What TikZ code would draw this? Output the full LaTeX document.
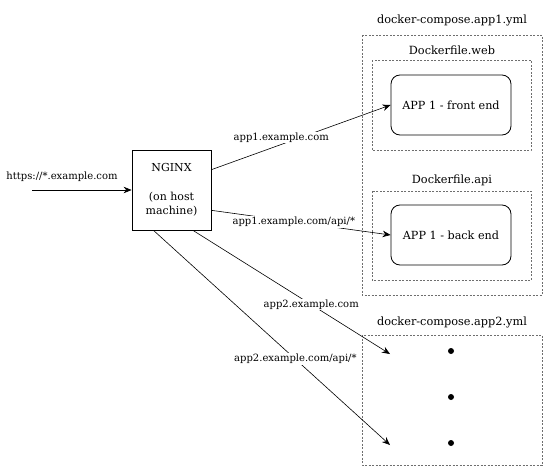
\documentclass[tikz,border=0pt]{standalone}
\usepackage{fontspec}
\setmainfont{DejaVu Serif}
\usetikzlibrary{arrows.meta}
\usetikzlibrary{calc}

\tikzset{
  composebox/.style={draw={rgb,255:red,110;green,110;blue,110},line width=0.6pt,dash pattern=on 2pt off 1.5pt},
  appbox/.style={draw,line width=0.8pt,rounded corners=9pt,minimum width=120pt,minimum height=60pt,font=\fontsize{11.2}{13}\selectfont},
  lbl/.style={fill=white,inner sep=1pt,font=\fontsize{10}{12}\selectfont},
  ttl/.style={font=\fontsize{11.3}{13}\selectfont},
  route/.style={line width=0.6pt,-{Stealth[length=8pt,width=6.5pt]}}
}

\begin{document}
\begin{tikzpicture}[x=1pt,y=1pt,yscale=-1,xscale=1]
\useasboundingbox (0,0) rectangle (547,471);

%Shape: docker-compose.app1.yml
\draw [composebox] (362,35) rectangle (542,295);
\node [ttl] (ttlapp1) at (452,20) {docker-compose.app1.yml};
%Shape: Dockerfile.web
\draw [composebox] (372,60) rectangle (531,150);
\node [ttl] (ttlweb) at (452,50) {Dockerfile.web};
%Shape: Dockerfile.api
\draw [composebox] (372,191) rectangle (531,280);
\node [ttl] (ttlapi) at (452,180) {Dockerfile.api};
%Shape: docker-compose.app2.yml
\draw [composebox] (362,335) rectangle (542,465);
\node [ttl] (ttlapp2) at (452,322) {docker-compose.app2.yml};

%Rounded boxes
\node [appbox] (front) at (451,105) {APP 1 - front end};
\node [appbox] (back) at (451,235) {APP 1 - back end};

%NGINX
\node [draw,line width=0.8pt,minimum width=79pt,minimum height=80pt,align=center,
       font=\fontsize{11}{14.5}\selectfont] (nginx) at (171.5,190) {NGINX\\[14pt](on host\\machine)};

%Dots in app2
\fill (451,351) circle (3pt);
\fill (451,397) circle (3pt);
\fill (451,443) circle (3pt);

%Free ends
\coordinate (inlet) at (32,190);
\coordinate (app2a) at (390,354);
\coordinate (app2b) at (390,445);

%Incoming
\draw [route] (inlet) -- (nginx.west);
\node [lbl] (lblin) at (62,177) {https://*.example.com};

%Routes
\draw [route] (nginx.27) -- (front.west) node [lbl,pos=0.39,yshift=7pt] (lblweb) {app1.example.com};
\draw [route] (nginx.-27) -- (back.west) node [lbl,pos=0.46] (lblapi) {app1.example.com/api/*};
\draw [route] (nginx.-62) -- (app2a) node [lbl,pos=0.6] (lblapp2) {app2.example.com};
\draw [route] (nginx.-114) -- (app2b) node [lbl,pos=0.6] (lblapp2api) {app2.example.com/api/*};

\end{tikzpicture}
\end{document}
